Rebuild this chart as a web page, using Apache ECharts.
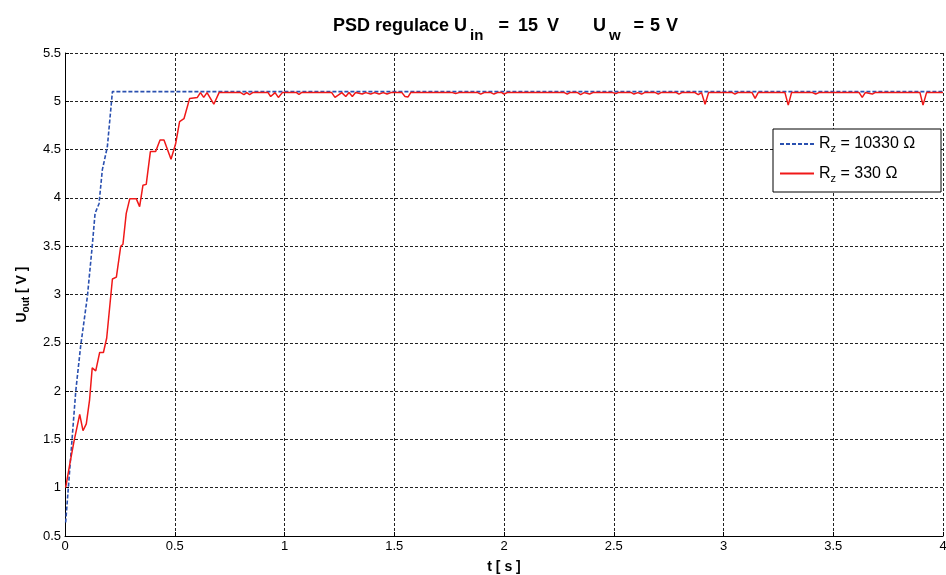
<!DOCTYPE html>
<html>
<head>
<meta charset="utf-8">
<script src="https://cdn.jsdelivr.net/npm/echarts@6/dist/echarts.min.js"></script>
<style>
  html, body { margin: 0; padding: 0; background: #fff; }
  #chart { width: 946px; height: 575px; }
</style>
</head>
<body>
<div id="chart"></div>
<script>
// Rz = 10330 ohm, dashed blue
const blueT = [0.003, 0.049, 0.071, 0.102, 0.124, 0.137, 0.155, 0.17, 0.193, 0.216, 4.0];
const blueV = [0.64, 2.0, 2.46, 2.98, 3.5, 3.84, 3.94, 4.29, 4.53, 5.1, 5.1];

// Rz = 330 ohm, solid red
const redT = [
  0.003, 0.023, 0.041, 0.067, 0.082, 0.097, 0.112, 0.124, 0.14, 0.158,
  0.175, 0.19, 0.216, 0.234, 0.254, 0.264, 0.279, 0.295, 0.325, 0.34,
  0.355, 0.37, 0.389, 0.413, 0.433, 0.451, 0.483, 0.504, 0.522, 0.542,
  0.568, 0.603, 0.617, 0.632, 0.647, 0.678, 0.702,
  0.80, 0.815, 0.828, 0.841, 0.855,
  0.925, 0.937, 0.957, 0.972, 0.99,
  1.055, 1.066, 1.077,
  1.215, 1.23, 1.261, 1.279, 1.294, 1.309, 1.324,
  1.354, 1.37, 1.393, 1.41, 1.431, 1.45, 1.467, 1.485,
  1.535, 1.549, 1.563, 1.575,
  1.765, 1.78, 1.795,
  1.88, 1.894, 1.91,
  1.94, 1.954, 1.97,
  1.99, 2.0, 2.015,
  2.275, 2.288, 2.30,
  2.335, 2.349, 2.365, 2.39, 2.405,
  2.495, 2.509, 2.52,
  2.58, 2.592, 2.61, 2.627, 2.64,
  2.69, 2.703, 2.715,
  2.785, 2.797, 2.81,
  2.87, 2.885, 2.90, 2.916, 2.932,
  3.04, 3.052, 3.065,
  3.13, 3.144, 3.158,
  3.28, 3.295, 3.31,
  3.405, 3.42, 3.435,
  3.618, 3.632, 3.646, 3.678, 3.69,
  3.895, 3.909, 3.925, 4.0
];
const redV = [
  1.0, 1.26, 1.48, 1.76, 1.59, 1.66, 1.91, 2.24, 2.21, 2.40,
  2.40, 2.55, 3.16, 3.18, 3.5, 3.52, 3.84, 3.99, 3.99, 3.91,
  4.13, 4.14, 4.48, 4.48, 4.60, 4.60, 4.40, 4.56, 4.79, 4.82,
  5.03, 5.04, 5.09, 5.04, 5.09, 4.97, 5.09,
  5.09, 5.07, 5.09, 5.07, 5.09,
  5.09, 5.05, 5.09, 5.04, 5.09,
  5.09, 5.07, 5.09,
  5.09, 5.04, 5.09, 5.05, 5.09, 5.05, 5.09,
  5.075, 5.09, 5.075, 5.09, 5.075, 5.09, 5.075, 5.09,
  5.09, 5.05, 5.045, 5.09,
  5.09, 5.08, 5.09,
  5.09, 5.075, 5.09,
  5.09, 5.075, 5.09,
  5.09, 5.075, 5.09,
  5.09, 5.075, 5.09,
  5.09, 5.07, 5.09, 5.075, 5.09,
  5.09, 5.08, 5.09,
  5.09, 5.075, 5.09, 5.075, 5.09,
  5.09, 5.075, 5.09,
  5.09, 5.075, 5.09,
  5.09, 5.07, 5.09, 4.97, 5.09,
  5.09, 5.075, 5.09,
  5.09, 5.03, 5.09,
  5.09, 4.96, 5.09,
  5.09, 5.075, 5.09,
  5.09, 5.04, 5.09, 5.075, 5.09,
  5.09, 4.96, 5.09, 5.09
];

const seriesNames = ['Rz = 10330 Ω', 'Rz = 330 Ω'];

const FONT = 'Liberation Sans, Arial, Helvetica, sans-serif';

let chart = echarts.init(document.getElementById('chart'));
chart.setOption({
  animation: false,
  backgroundColor: '#fff',
  textStyle: { fontFamily: FONT },
  title: {
    text: 'PSD regulace U{sub|in}{g1|}={g2|}15{g2|}V{g3|}U{sub|w}{g4|}={g5|}5{g5|}V',
    left: 333,
    top: 10,
    padding: 0,
    textStyle: {
      fontFamily: FONT,
      fontSize: 18,
      fontWeight: 'bold',
      color: '#000',
      rich: {
        sub: { fontFamily: FONT, fontSize: 15, fontWeight: 'bold', color: '#000', padding: [18, 0, 0, 3] },
        g1: { width: 15 },
        g2: { width: 9 },
        g3: { width: 34 },
        g4: { width: 13 },
        g5: { width: 6 }
      }
    }
  },
  grid: { left: 65, right: 3, top: 53, bottom: 39, containLabel: false, outerBoundsMode: 'none' },
  graphic: [{
    type: 'rect',
    z: 50,
    shape: { x: 773, y: 129, width: 168, height: 63 },
    style: { fill: '#fff', stroke: '#000', lineWidth: 1 }
  }],
  legend: {
    z: 60,
    orient: 'vertical',
    left: 779,
    top: 136,
    padding: 0,
    itemWidth: 34,
    itemHeight: 14,
    itemGap: 11,
    data: seriesNames,
    itemStyle: { opacity: 0 },
    formatter: name => name.replace('Rz', 'R{sub|z}'),
    textStyle: {
      fontFamily: FONT,
      fontSize: 16,
      color: '#000',
      rich: {
        sub: { fontFamily: FONT, fontSize: 11, color: '#000', padding: [10, 0, 0, 0] }
      }
    }
  },
  xAxis: {
    type: 'value',
    min: 0,
    max: 4,
    interval: 0.5,
    name: 't [ s ]',
    nameLocation: 'middle',
    nameGap: 24,
    nameTextStyle: { fontFamily: FONT, fontSize: 14, fontWeight: 'bold', color: '#000' },
    axisLine: { lineStyle: { color: '#000', width: 1 } },
    axisTick: { inside: true, length: 4, lineStyle: { color: '#000' } },
    axisLabel: { color: '#000', fontSize: 13, margin: 4, fontFamily: FONT },
    splitLine: { show: true, lineStyle: { color: '#222', type: [3, 2], width: 1 } }
  },
  yAxis: {
    type: 'value',
    min: 0.5,
    max: 5.5,
    interval: 0.5,
    name: 'U{sub|out} [ V ]',
    nameLocation: 'middle',
    nameRotate: 90,
    nameGap: 34,
    nameTextStyle: {
      fontFamily: FONT, fontSize: 14, fontWeight: 'bold', color: '#000',
      rich: { sub: { fontFamily: FONT, fontSize: 10, fontWeight: 'bold', color: '#000', padding: [8, 0, 0, 0] } }
    },
    axisLine: { show: true, lineStyle: { color: '#000', width: 1 } },
    axisTick: { show: true, inside: true, length: 4, lineStyle: { color: '#000' } },
    axisLabel: { color: '#000', fontSize: 13, margin: 4, fontFamily: FONT },
    splitLine: { show: true, lineStyle: { color: '#222', type: [3, 2], width: 1 } }
  },
  series: [
    {
      name: seriesNames[0],
      type: 'line',
      showSymbol: false,
      symbol: 'none',
      data: blueT.map((t, i) => [t, blueV[i]]),
      lineStyle: { color: '#2a50b0', width: 1.6, type: [4, 2] },
      itemStyle: { color: '#2a50b0' }
    },
    {
      name: seriesNames[1],
      type: 'line',
      showSymbol: false,
      symbol: 'none',
      data: redT.map((t, i) => [t, redV[i]]),
      lineStyle: { color: '#f01818', width: 1.5 },
      itemStyle: { color: '#f01818' }
    }
  ]
});
</script>
</body>
</html>
